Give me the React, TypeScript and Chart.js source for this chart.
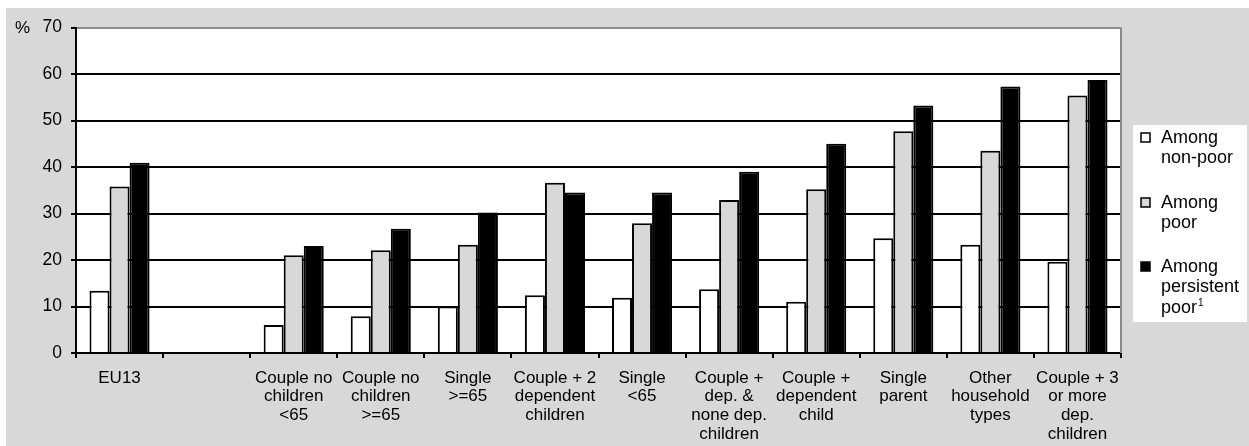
import React, { useEffect, useRef } from "react";
import { Chart, registerables } from "chart.js";

Chart.register(...registerables);

const categories: (string | string[])[] = [
  "EU13",
  "",
  ["Couple no", "children", "<65"],
  ["Couple no", "children", ">=65"],
  ["Single", ">=65"],
  ["Couple + 2", "dependent", "children"],
  ["Single", "<65"],
  ["Couple +", "dep. &", "none dep.", "children"],
  ["Couple +", "dependent", "child"],
  ["Single", "parent"],
  ["Other", "household", "types"],
  ["Couple + 3", "or more", "dep.", "children"],
];

const amongNonPoor = [13.4, null, 6.0, 7.9, 10.0, 12.4, 11.9, 13.7, 11.0, 24.7, 23.3, 19.6];
const amongPoor = [35.8, null, 21.0, 22.1, 23.3, 36.6, 27.9, 32.9, 35.2, 47.7, 43.5, 55.4];
const amongPersistentPoor = [40.9, null, 23.0, 26.7, 30.2, 34.5, 34.5, 39.0, 45.0, 53.2, 57.3, 58.7];

const yMin = 0;
const yMax = 70;
const yStep = 10;

const seriesNames = ["Among non-poor", "Among poor", "Among persistent poor"];
const legendLines = [["Among", "non-poor"], ["Among", "poor"], ["Among", "persistent", "poor"]];
const legendSuperscripts = ["", "", "1"];
const seriesColors = ["#ffffff", "#d8d8d8", "#000000"];

const FONT = "'Liberation Sans', Arial, Helvetica, sans-serif";

const decorPlugin = {
  id: "decor",
  beforeDraw(chart: any) {
    const { ctx, chartArea } = chart;
    ctx.save();
    ctx.fillStyle = "#ffffff";
    ctx.fillRect(chartArea.left, chartArea.top, chartArea.right - chartArea.left, chartArea.bottom - chartArea.top);
    ctx.restore();
  },
  afterDraw(chart: any) {
    const { ctx, chartArea } = chart;
    ctx.save();
    // right border (grey)
    ctx.strokeStyle = "#8c8c8c";
    ctx.lineWidth = 2;
    ctx.beginPath();
    ctx.moveTo(chartArea.right, chartArea.top);
    ctx.lineTo(chartArea.right, chartArea.bottom);
    ctx.stroke();

    // % sign
    ctx.fillStyle = "#000";
    ctx.font = `17px ${FONT}`;
    ctx.textAlign = "left";
    ctx.textBaseline = "middle";
    ctx.fillText("%", 9, chartArea.top + 1);

    // legend
    const bx = chartArea.right + 12;
    const by = 117;
    ctx.fillStyle = "#ffffff";
    ctx.fillRect(bx, by, 114, 197);
    const firstLineY = [130, 195, 259];
    legendLines.forEach((lines, i) => {
      const y0 = firstLineY[i];
      ctx.fillStyle = seriesColors[i];
      ctx.fillRect(bx + 8, y0 - 5, 9, 9);
      ctx.strokeStyle = "#000";
      ctx.lineWidth = 1.5;
      ctx.strokeRect(bx + 8, y0 - 5, 9, 9);
      ctx.fillStyle = "#000";
      ctx.textAlign = "left";
      ctx.textBaseline = "middle";
      lines.forEach((t, j) => {
        const ly = y0 + j * 20.5;
        ctx.font = `18px ${FONT}`;
        ctx.fillText(t, bx + 28, ly);
        if (j === lines.length - 1 && legendSuperscripts[i]) {
          const w = ctx.measureText(t).width;
          ctx.font = `10px ${FONT}`;
          ctx.fillText(legendSuperscripts[i], bx + 28 + w + 1, ly - 5);
        }
      });
    });
    ctx.restore();
  },
};

export default function App() {
  const canvasRef = useRef<HTMLCanvasElement | null>(null);

  useEffect(() => {
    if (!canvasRef.current) return;
    const datasets = [amongNonPoor, amongPoor, amongPersistentPoor].map((data, i) => ({
      label: seriesNames[i],
      data,
      backgroundColor: seriesColors[i],
      borderColor: "#000000",
      borderWidth: 2,
      borderSkipped: "bottom" as const,
      barPercentage: 1,
      categoryPercentage: 0.69,
    }));
    const chart = new Chart(canvasRef.current, {
      type: "bar",
      data: { labels: categories as any, datasets: datasets as any },
      options: {
        animation: false,
        responsive: false,
        devicePixelRatio: 1,
        layout: { padding: { top: 17, right: 128, bottom: 0, left: 0 } },
        font: { family: FONT } as any,
        plugins: {
          legend: { display: false },
          tooltip: { enabled: false },
        },
        scales: {
          x: {
            grid: {
              drawOnChartArea: false,
              drawTicks: true,
              tickLength: 5,
              color: "#000",
              lineWidth: 2,
              offset: true,
            },
            border: { display: true, color: "#000", width: 2 },
            ticks: {
              color: "#000",
              font: { family: FONT, size: 17, lineHeight: 1.09 },
              padding: 11,
              maxRotation: 0,
              minRotation: 0,
              autoSkip: false,
            },
            afterFit(scale: any) {
              scale.height = 93;
            },
          },
          y: {
            min: yMin,
            max: yMax,
            ticks: {
              stepSize: yStep,
              color: "#000",
              font: { family: FONT, size: 17.5 },
              padding: 9,
            },
            grid: {
              color: (c: any) => (c.tick && c.tick.value === yMax ? "#8c8c8c" : "#000"),
              tickColor: "#000",
              lineWidth: 2,
              tickLength: 5,
            },
            border: { display: true, color: "#000", width: 2 },
            afterFit(scale: any) {
              scale.width = 70;
            },
          },
        },
      },
      plugins: [decorPlugin],
    });
    return () => chart.destroy();
  }, []);

  return (
    <div
      style={{
        position: "absolute",
        left: 6,
        top: 8,
        width: 1243,
        height: 438,
        background: "#d8d8d8",
      }}
    >
      <canvas ref={canvasRef} width={1243} height={438} style={{ display: "block" }} />
    </div>
  );
}
